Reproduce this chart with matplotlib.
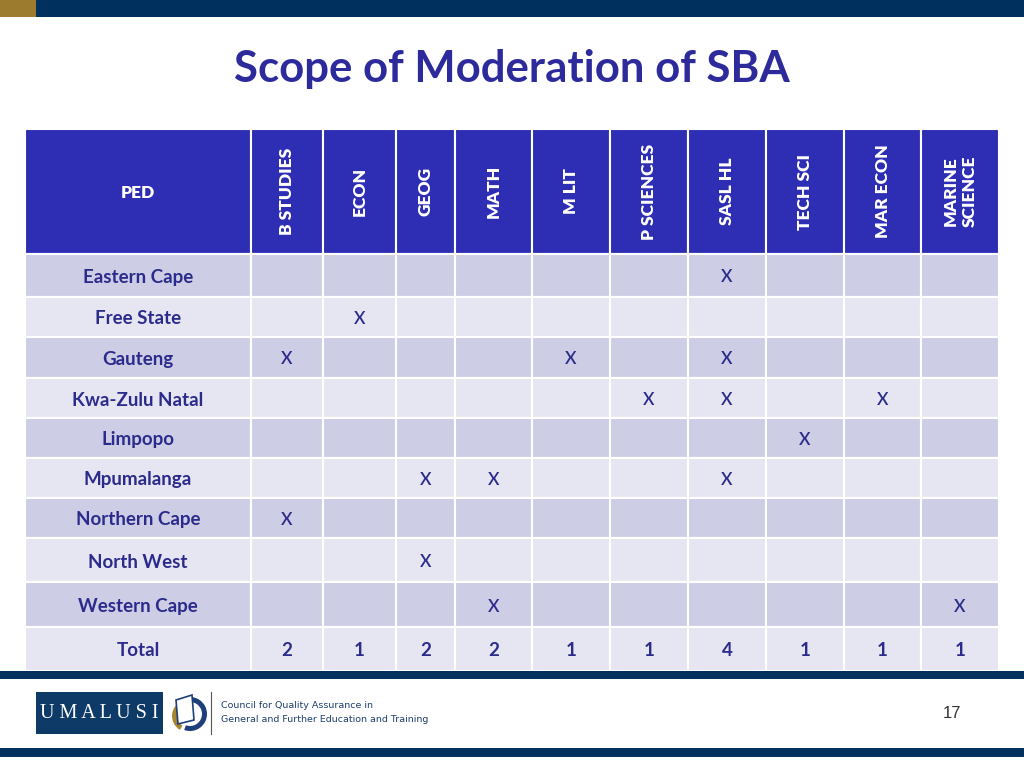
import matplotlib
matplotlib.use("Agg")
import matplotlib.pyplot as plt
from matplotlib.patches import Rectangle, Polygon, Wedge

title = "Scope of Moderation of SBA"
corner_label = "PED"
subjects = ["B STUDIES", "ECON", "GEOG", "MATH", "M LIT", "P SCIENCES",
            "SASL HL", "TECH SCI", "MAR ECON", "MARINE\nSCIENCE"]
provinces = ["Eastern Cape", "Free State", "Gauteng", "Kwa-Zulu Natal", "Limpopo",
             "Mpumalanga", "Northern Cape", "North West", "Western Cape"]
# 1 = moderated (X), per province, per subject
marks_eastern_cape   = [0, 0, 0, 0, 0, 0, 1, 0, 0, 0]
marks_free_state     = [0, 1, 0, 0, 0, 0, 0, 0, 0, 0]
marks_gauteng        = [1, 0, 0, 0, 1, 0, 1, 0, 0, 0]
marks_kzn            = [0, 0, 0, 0, 0, 1, 1, 0, 1, 0]
marks_limpopo        = [0, 0, 0, 0, 0, 0, 0, 1, 0, 0]
marks_mpumalanga     = [0, 0, 1, 1, 0, 0, 1, 0, 0, 0]
marks_northern_cape  = [1, 0, 0, 0, 0, 0, 0, 0, 0, 0]
marks_north_west     = [0, 0, 1, 0, 0, 0, 0, 0, 0, 0]
marks_western_cape   = [0, 0, 0, 1, 0, 0, 0, 0, 0, 1]
totals = [2, 1, 2, 2, 1, 1, 4, 1, 1, 1]
total_label = "Total"
footer_line1 = "Council for Quality Assurance in"
footer_line2 = "General and Further Education and Training"
page_number = "17"

marks = [marks_eastern_cape, marks_free_state, marks_gauteng, marks_kzn, marks_limpopo,
         marks_mpumalanga, marks_northern_cape, marks_north_west, marks_western_cape]

# layout (pixel space)
col_edges = [25, 251, 323, 396, 455, 532, 610, 688, 766, 844, 921, 999]
row_edges = [129, 254, 297, 337, 378, 418, 458, 498, 538, 582, 627, 671]

NAVY = "#00305E"
GOLD = "#9C7A2E"
HEADER = "#2E2EB4"
ODD = "#CDCDE6"
EVEN = "#E6E6F2"
TXT = "#2B2B8C"
FONT = "Lato"
DY = 2  # small vertical text nudge

fig = plt.figure(figsize=(10.24, 7.68), dpi=100)
ax = fig.add_axes([0, 0, 1, 1])
ax.set_xlim(0, 1024)
ax.set_ylim(768, 0)
ax.axis("off")

# top bar
ax.add_patch(Rectangle((0, 0), 1024, 17, color=NAVY, lw=0))
ax.add_patch(Rectangle((0, 0), 36, 17, color=GOLD, lw=0))

ax.text(512, 69, title, ha="center", va="center", fontsize=31.5, fontweight="bold",
        color="#2D2A9C", family=FONT)

# table cells
nrows = len(row_edges) - 1
ncols = len(col_edges) - 1
for r in range(nrows):
    y0, y1 = row_edges[r], row_edges[r + 1]
    if r == 0:
        fc = HEADER
    else:
        fc = ODD if (r - 1) % 2 == 0 else EVEN
    for c in range(ncols):
        x0, x1 = col_edges[c], col_edges[c + 1]
        ax.add_patch(Rectangle((x0, y0), x1 - x0, y1 - y0, facecolor=fc,
                               edgecolor="white", lw=1.5))

# header text
ax.text((col_edges[0] + col_edges[1]) / 2, (row_edges[0] + row_edges[1]) / 2 + DY,
        corner_label, ha="center", va="center", color="white", fontsize=12.5,
        fontweight="heavy", family=FONT)
for c, s in enumerate(subjects):
    xc = (col_edges[c + 1] + col_edges[c + 2]) / 2
    ax.text(xc, (row_edges[0] + row_edges[1]) / 2, s, ha="center", va="center",
            rotation=90, color="white", fontsize=12.5, fontweight="heavy",
            family=FONT, linespacing=1.25)

# body
for r, (prov, row) in enumerate(zip(provinces, marks)):
    yc = (row_edges[r + 1] + row_edges[r + 2]) / 2 + DY
    ax.text((col_edges[0] + col_edges[1]) / 2, yc, prov, ha="center", va="center",
            color=TXT, fontsize=13.5, fontweight="bold", family=FONT)
    for c, v in enumerate(row):
        if v:
            xc = (col_edges[c + 1] + col_edges[c + 2]) / 2
            ax.text(xc, yc, "X", ha="center", va="center", color=TXT,
                    fontsize=12.5, family=FONT, fontweight="semibold")

yc = (row_edges[-2] + row_edges[-1]) / 2 + DY
ax.text((col_edges[0] + col_edges[1]) / 2, yc, total_label, ha="center", va="center",
        color=TXT, fontsize=13.5, fontweight="bold", family=FONT)
for c, t in enumerate(totals):
    xc = (col_edges[c + 1] + col_edges[c + 2]) / 2
    ax.text(xc, yc, str(t), ha="center", va="center", color=TXT, fontsize=13.5,
            fontweight="bold", family=FONT)

# bottom bands
ax.add_patch(Rectangle((0, 671), 1024, 8, color=NAVY, lw=0))
ax.add_patch(Rectangle((0, 748), 1024, 9, color=NAVY, lw=0))

# logo
ax.add_patch(Rectangle((36, 692), 127, 42, color="#0E3A68", lw=0))
ax.text(99.5, 714, "U M A L U S I", ha="center", va="center", color="white",
        fontsize=14.5, family="Liberation Serif")
ax.add_patch(Wedge((190, 714), 17, 250, 110, width=5, color="#1E3F7A", lw=0))
ax.add_patch(Wedge((188, 716), 16, 120, 250, width=5, color="#A8852E", lw=0))
ax.add_patch(Polygon([[176, 700], [192, 695], [194, 720], [178, 724]],
                     closed=True, facecolor="white", edgecolor="#1E3F7A", lw=1.2))
ax.plot([211, 211], [692, 734], color="#555555", lw=0.8)
ax.text(221, 705, footer_line1, ha="left", va="center", color="#1E3F6E",
        fontsize=6.8, family="Liberation Sans Narrow")
ax.text(221, 719, footer_line2, ha="left", va="center", color="#1E3F6E",
        fontsize=6.8, family="Liberation Sans Narrow")
ax.text(952, 713, page_number, ha="center", va="center", color="#333333",
        fontsize=12, family="Liberation Sans")

fig.savefig("out.png", dpi=100)
